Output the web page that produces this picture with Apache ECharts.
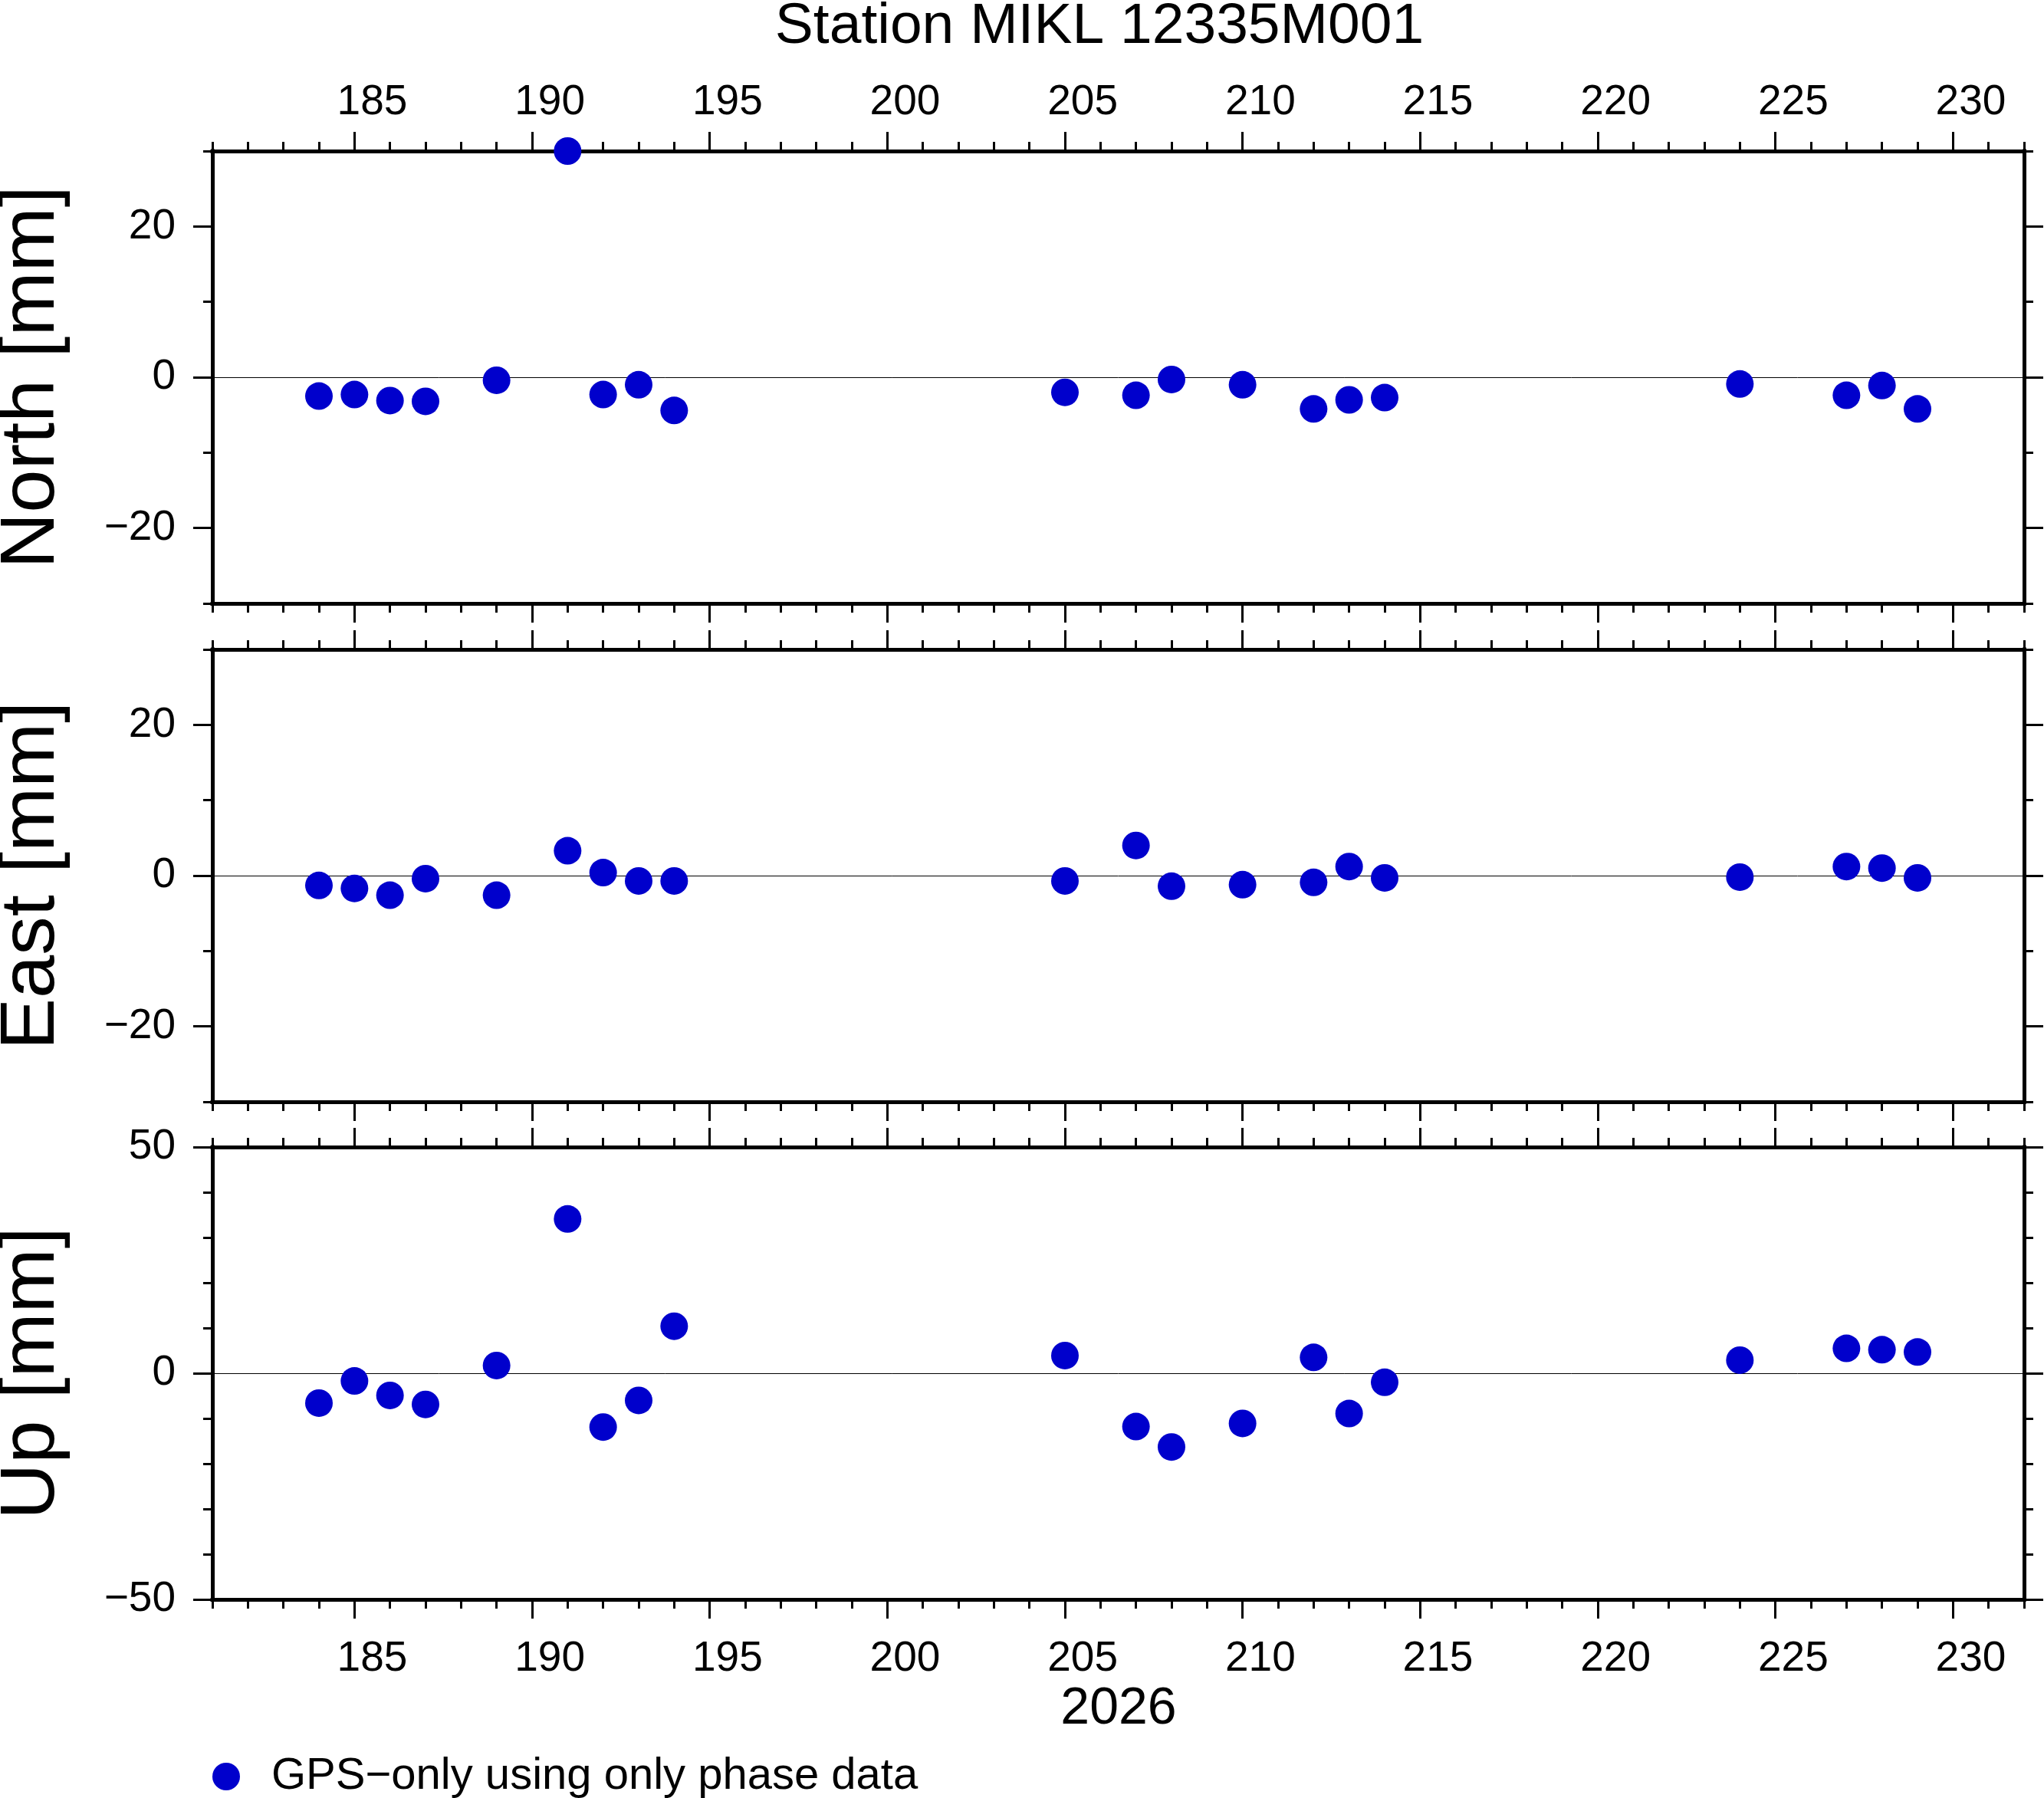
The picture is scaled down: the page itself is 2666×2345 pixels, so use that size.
<!DOCTYPE html>
<html>
<head>
<meta charset="utf-8">
<title>Station MIKL 12335M001</title>
<script src="https://cdn.jsdelivr.net/npm/echarts@6/dist/echarts.min.js"></script>
<style>
    html, body { margin: 0; padding: 0; background: #fff; }
    #main { width: 2666px; height: 2345px; }
</style>
</head>
<body>
<div id="main"></div>
<script>
// day of year 2026
var days = [184, 185, 186, 187, 189, 191, 192, 193, 194, 205, 207, 208, 210, 212, 213, 214, 224, 227, 228, 229];
// residuals in mm
var north = [-2.5, -2.3, -3.1, -3.2, -0.4, 30.0, -2.3, -1.0, -4.4, -2.0, -2.4, -0.3, -1.0, -4.2, -3.0, -2.7, -0.9, -2.4, -1.1, -4.2];
var east = [-1.3, -1.7, -2.6, -0.4, -2.6, 3.3, 0.4, -0.7, -0.7, -0.7, 4.0, -1.4, -1.2, -0.9, 1.2, -0.3, -0.2, 1.2, 1.0, -0.3];
var up = [-6.6, -1.7, -4.9, -6.9, 1.7, 34.1, -11.9, -6.0, 10.4, 3.9, -11.8, -16.3, -11.1, 3.5, -8.9, -2.0, 2.9, 5.5, 5.2, 4.7];

var xMajor = [185, 190, 195, 200, 205, 210, 215, 220, 225, 230];
var yMajorNE = [-20, 0, 20];
var yMajorUp = [-50, 0, 50];

var seriesName = 'GPS\u2212only using only phase data';
var FONT = 'Liberation Sans';
var BLUE = '#0000cc';

var myChart = echarts.init(document.getElementById('main'), null, {renderer: 'canvas', devicePixelRatio: 1});

function fmtMinus(v) {
    return v < 0 ? '\u2212' + (-v) : String(v);
}

// panels: North, East, Up
var panels = [
    {name: 'North [mm]', data: north, min: -30, max: 30, major: yMajorNE, top: 197},
    {name: 'East [mm]', data: east, min: -30, max: 30, major: yMajorNE, top: 847},
    {name: 'Up [mm]', data: up, min: -50, max: 50, major: yMajorUp, top: 1496}
];

var grids = [], xAxes = [], yAxes = [], series = [], graphics = [];

function xPair(g, pos, showLabel) {
    var line = {color: '#000', width: 5, cap: 'square'};
    var tick = {color: '#000', width: 3};
    return [{
        type: 'value', gridIndex: g, position: pos, min: 181, max: 232, interval: 1,
        axisLine: {show: true, onZero: false, lineStyle: line},
        axisTick: {show: true, inside: false, length: 12, lineStyle: tick},
        axisLabel: {show: false},
        splitLine: {show: false}
    }, {
        type: 'value', gridIndex: g, position: pos, min: 181, max: 232,
        axisLine: {show: false, onZero: false},
        axisTick: {show: true, inside: false, length: 25, customValues: xMajor, lineStyle: tick},
        axisLabel: {
            show: showLabel,
            // label sits in the middle of the day
            customValues: xMajor.map(function (d) { return d + 0.5; }),
            formatter: function (v) { return String(Math.round(v - 0.5)); },
            margin: pos == 'top' ? 35 : 50,
            fontSize: 55, lineHeight: 56, fontFamily: FONT, color: '#000'
        },
        splitLine: {show: false}
    }];
}

function yPair(g, pos, p, showLabel) {
    var line = {color: '#000', width: 5, cap: 'square'};
    var tick = {color: '#000', width: 3};
    return [{
        type: 'value', gridIndex: g, position: pos, min: p.min, max: p.max, interval: 10,
        axisLine: {show: true, onZero: false, lineStyle: line},
        axisTick: {show: true, inside: false, length: 12, lineStyle: tick},
        axisLabel: {show: false},
        splitLine: {show: false}
    }, {
        type: 'value', gridIndex: g, position: pos, min: p.min, max: p.max,
        axisLine: {show: false, onZero: false},
        axisTick: {show: true, inside: false, length: 25, customValues: p.major, lineStyle: tick},
        axisLabel: {
            show: showLabel, customValues: p.major, formatter: fmtMinus,
            margin: 48, fontSize: 55, lineHeight: 56, padding: [12, 0, 0, 0],
            fontFamily: FONT, color: '#000'
        },
        splitLine: {show: false}
    }];
}

for (var g = 0; g < panels.length; g++) {
    var p = panels[g];
    grids.push({left: 277, right: 26, top: p.top, height: 590});

    var xi = xAxes.length, yi = yAxes.length;
    xAxes = xAxes.concat(xPair(g, 'bottom', g == 2), xPair(g, 'top', g == 0));
    yAxes = yAxes.concat(yPair(g, 'left', p, true), yPair(g, 'right', p, false));

    var pts = [];
    for (var i = 0; i < days.length; i++) {
        pts.push([days[i], p.data[i]]);
    }
    series.push({
        name: seriesName,
        type: 'scatter',
        xAxisIndex: xi,
        yAxisIndex: yi,
        symbol: 'circle',
        symbolSize: 36,
        itemStyle: {color: BLUE, opacity: 1},
        data: pts,
        z: 3,
        markLine: {
            silent: true, z: 1, symbol: ['none', 'none'],
            label: {show: false},
            lineStyle: {color: '#000', width: 1, type: 'solid'},
            data: [{yAxis: 0}]
        }
    });

    graphics.push({
        type: 'text', x: 42, y: p.top + 295, rotation: Math.PI / 2,
        style: {text: p.name, fontSize: 101, fontFamily: FONT, fill: '#000', align: 'center', verticalAlign: 'middle'}
    });
}

graphics.push({
    type: 'text', x: 1434, y: 35,
    style: {text: 'Station MIKL 12335M001', fontSize: 75, fontFamily: FONT, fill: '#000', align: 'center', verticalAlign: 'middle'}
});
graphics.push({
    type: 'text', x: 1459, y: 2229,
    style: {text: '2026', fontSize: 68, fontFamily: FONT, fill: '#000', align: 'center', verticalAlign: 'middle'}
});

var option = {
    animation: false,
    backgroundColor: '#fff',
    grid: grids,
    xAxis: xAxes,
    yAxis: yAxes,
    legend: {
        data: [seriesName],
        left: 277, top: 2288, padding: 0,
        icon: 'circle', itemWidth: 108, itemHeight: 36,
        selectedMode: false,
        itemStyle: {opacity: 1},
        textStyle: {fontSize: 58, fontFamily: FONT, color: '#000'}
    },
    graphic: graphics,
    series: series
};

myChart.setOption(option);
</script>
</body>
</html>
